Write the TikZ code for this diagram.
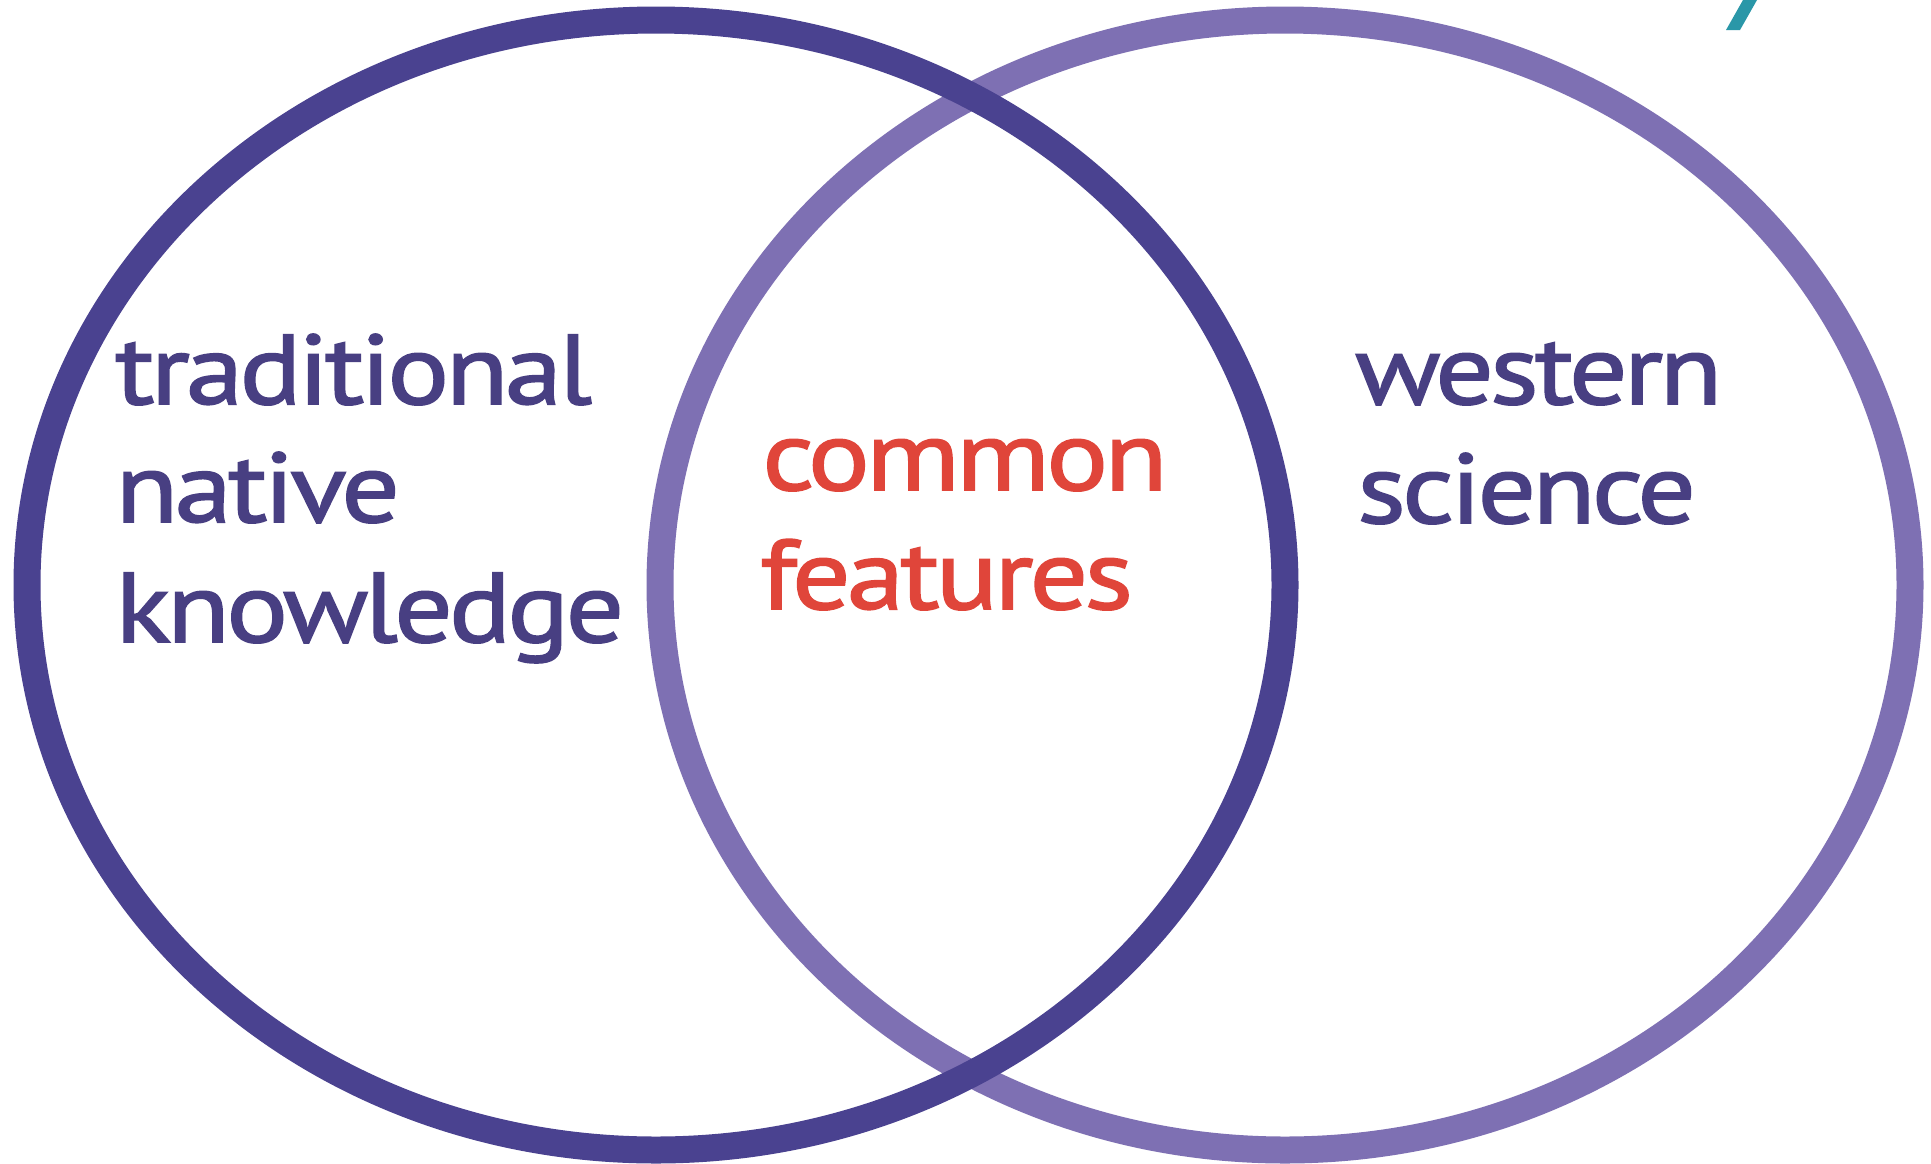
\documentclass[tikz,border=0pt]{standalone}
\usepackage{fontspec}
\setmainfont{PT Sans}
\newfontfamily\lblfont[FakeBold=1.6,FakeStretch=1.17,LetterSpace=-4]{PT Sans}
\definecolor{leftring}{HTML}{4A4290}
\definecolor{rightring}{HTML}{7E70B3}
\definecolor{labeltext}{HTML}{483F82}
\definecolor{commontext}{HTML}{E0453A}
\definecolor{markcyan}{HTML}{2A97A8}
\begin{document}
\begin{tikzpicture}[x=1pt,y=-1pt,
  ring/.style={line width=27pt},
  lbl/.style={anchor=base west,inner sep=0pt,font=\lblfont\fontsize{99}{116}\selectfont,text=labeltext},
  clbl/.style={lbl,text=commontext}]
\useasboundingbox[fill=white] (0,0) rectangle (1931,1163);
\draw[ring,rightring] (1285,585) ellipse [x radius=625,y radius=565];
\draw[ring,leftring] (656,585) ellipse [x radius=629,y radius=565];
\fill[markcyan] (1743,0) -- (1757,0) -- (1740,30) -- (1726,30) -- cycle;
\node[lbl] (t1) at (115,404) {traditional};
\node[lbl] (t2) at (115,522) {native};
\node[lbl] (t3) at (115,642) {knowledge};
\node[clbl] (c1) at (762,490) {common};
\node[clbl] (c2) at (760,609) {features};
\node[lbl] (w1) at (1355,404) {western};
\node[lbl] (w2) at (1357,523) {science};
\end{tikzpicture}
\end{document}
